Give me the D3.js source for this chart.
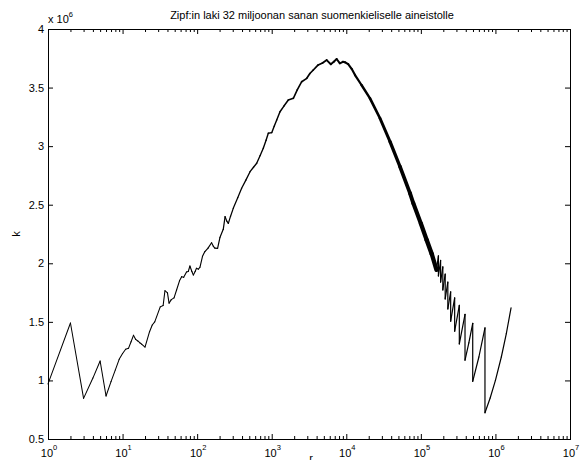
<!DOCTYPE html>
<html>
<head>
<meta charset="utf-8">
<script src="https://d3js.org/d3.v7.min.js"></script>
<style>
body{margin:0;background:#fff;}
text{font-family:"Liberation Sans",Arial,Helvetica,sans-serif;fill:#000;}
</style>
</head>
<body>
<script>
const width = 581;
const height = 468;
const margin = {top:29, right:11, bottom:29, left:48};

const titleText = "Zipf:in laki 32 miljoonan sanan suomenkieliselle aineistolle";
const xLabel = "r";
const yLabel = "k";
const xTickPowers = [0,1,2,3,4,5,6,7];
const yTicks = [0.5,1,1.5,2,2.5,3,3.5,4];
const yTickLabels = ["0.5","1","1.5","2","2.5","3","3.5","4"];

// rank of the word
const ranks = [
  1, 2, 3, 4, 5, 6, 7, 8, 9, 10,
  11, 12, 13, 14, 15, 16, 17, 18, 20, 23,
  25, 27, 32, 35, 37, 40, 42, 45, 49, 53,
  58, 62, 66, 72, 76, 80, 85, 89, 94, 98,
  104, 109, 118, 127, 140, 156, 165, 173, 188, 202,
  224, 237, 250, 262, 280, 305, 350, 395, 450, 512,
  570, 629, 700, 771, 840, 900, 1000, 1080, 1167, 1291,
  1450, 1670, 1950, 2200, 2525, 2950, 3250, 3610, 4200, 4800,
  5460, 6200, 6800, 7430, 8200, 9000, 9600, 10600, 11800, 13100,
  16000, 20800, 28300, 38600, 52500, 71600, 79300, 100000, 119700, 140000,
  162000, 172000, 172000, 184000, 184000, 197000, 197000, 212000, 212000, 230000,
  230000, 251000, 251000, 284000, 284000, 328000, 328000, 391000, 391000, 440000,
  496000, 496000, 600000, 724000, 724000, 850000, 1000000, 1200000, 1400000, 1620000
];

// k = rank * frequency, in units of 10^6
const kValues = [
  0.97, 1.49, 0.847, 1.02, 1.166, 0.867, 0.99, 1.09, 1.18, 1.23,
  1.266, 1.274, 1.33, 1.385, 1.35, 1.337, 1.322, 1.31, 1.285, 1.416,
  1.473, 1.50, 1.628, 1.64, 1.766, 1.748, 1.66, 1.69, 1.705, 1.772,
  1.85, 1.886, 1.88, 1.925, 1.93, 1.977, 1.93, 1.90, 1.93, 1.957,
  1.95, 1.966, 2.06, 2.10, 2.13, 2.175, 2.145, 2.13, 2.128, 2.22,
  2.29, 2.398, 2.36, 2.341, 2.40, 2.469, 2.56, 2.64, 2.71, 2.782,
  2.82, 2.854, 2.92, 2.982, 3.05, 3.11, 3.115, 3.17, 3.223, 3.294,
  3.34, 3.394, 3.408, 3.48, 3.55, 3.579, 3.62, 3.65, 3.693, 3.71,
  3.735, 3.699, 3.72, 3.744, 3.707, 3.72, 3.716, 3.701, 3.66, 3.607,
  3.522, 3.408, 3.238, 3.038, 2.825, 2.597, 2.512, 2.34, 2.199, 2.08,
  1.944, 2.064, 1.892, 2.024, 1.84, 1.97, 1.773, 1.908, 1.696, 1.84,
  1.61, 1.757, 1.506, 1.704, 1.42, 1.64, 1.312, 1.564, 1.173, 1.32,
  1.488, 0.992, 1.2, 1.448, 0.724, 0.85, 1.0, 1.2, 1.4, 1.62
];

const svg = d3.select("body").append("svg")
  .attr("width", width)
  .attr("height", height);

svg.append("rect")
  .attr("width", width)
  .attr("height", height)
  .attr("fill", "#fff");

const x = d3.scaleLog().domain([1, 1e7]).range([margin.left, width - margin.right]);
const y = d3.scaleLinear().domain([0.5, 4]).range([height - margin.bottom, margin.top]);

// the dense tail of the curve looks thicker in the original
const lineWidth = d3.scaleLog()
  .domain([1, 100, 1000, 5000, 12000, 20000, 40000, 80000, 150000, 158000])
  .range([1, 1.1, 1.4, 1.8, 2.1, 2.5, 3.2, 4, 4.6, 1.2])
  .clamp(true);

const data = ranks.map((r, i) => ({r: r, k: kValues[i]}));
const segments = d3.pairs(data);

svg.append("g")
  .selectAll("line")
  .data(segments)
  .join("line")
  .attr("x1", d => x(d[0].r))
  .attr("y1", d => y(d[0].k))
  .attr("x2", d => x(d[1].r))
  .attr("y2", d => y(d[1].k))
  .attr("stroke", "#000")
  .attr("stroke-linecap", "round")
  .attr("stroke-width", d => lineWidth(Math.sqrt(d[0].r * d[1].r)));

// axes, matlab style: ticks pointing inside on all four sides
const majorX = xTickPowers.map(p => Math.pow(10, p));
const minorX = x.ticks().filter(t => !majorX.includes(t));

function tidy(g) {
  g.select(".domain").remove();
  g.selectAll(".tick line").attr("stroke", "#000");
}

svg.append("g").attr("transform", `translate(0,${height - margin.bottom})`)
  .call(d3.axisBottom(x).tickValues(majorX).tickSize(-5).tickFormat(""))
  .call(tidy);
svg.append("g").attr("transform", `translate(0,${height - margin.bottom})`)
  .call(d3.axisBottom(x).tickValues(minorX).tickSize(-3).tickFormat(""))
  .call(tidy);
svg.append("g").attr("transform", `translate(0,${margin.top})`)
  .call(d3.axisTop(x).tickValues(majorX).tickSize(-5).tickFormat(""))
  .call(tidy);
svg.append("g").attr("transform", `translate(0,${margin.top})`)
  .call(d3.axisTop(x).tickValues(minorX).tickSize(-3).tickFormat(""))
  .call(tidy);

svg.append("g").attr("transform", `translate(${margin.left},0)`)
  .call(d3.axisLeft(y).tickValues(yTicks).tickSize(-5).tickPadding(4)
    .tickFormat((d, i) => yTickLabels[i]))
  .call(tidy)
  .call(g => g.selectAll("text").attr("font-size", 11).attr("font-family", null));
svg.append("g").attr("transform", `translate(${width - margin.right},0)`)
  .call(d3.axisRight(y).tickValues(yTicks).tickSize(-5).tickFormat(""))
  .call(tidy);

svg.append("rect")
  .attr("x", margin.left)
  .attr("y", margin.top)
  .attr("width", width - margin.left - margin.right)
  .attr("height", height - margin.top - margin.bottom)
  .attr("fill", "none")
  .attr("stroke", "#000")
  .attr("shape-rendering", "crispEdges");

// x tick labels 10^p
const xl = svg.append("g").selectAll("text")
  .data(xTickPowers)
  .join("text")
  .attr("x", d => x(Math.pow(10, d)) + 1)
  .attr("y", height - margin.bottom + 18)
  .attr("text-anchor", "middle")
  .attr("font-size", 11);
xl.append("tspan").text("10");
xl.append("tspan").attr("dy", -7).attr("font-size", 7.5).text(d => d);

// multiplier above the y axis
const mult = svg.append("text")
  .attr("x", margin.left)
  .attr("y", margin.top - 6)
  .attr("font-size", 11);
mult.append("tspan").text("x 10");
mult.append("tspan").attr("dy", -6).attr("font-size", 7.5).text("6");

svg.append("text")
  .attr("x", (margin.left + width - margin.right) / 2 + 3)
  .attr("y", 19)
  .attr("text-anchor", "middle")
  .attr("font-size", 11)
  .text(titleText);

svg.append("text")
  .attr("transform", `translate(20,${(margin.top + height - margin.bottom) / 2}) rotate(-90)`)
  .attr("text-anchor", "middle")
  .attr("font-size", 11)
  .text(yLabel);

// x label is cut off at the bottom in the original
svg.append("clipPath").attr("id", "cut")
  .append("rect").attr("x", 0).attr("y", 0).attr("width", width).attr("height", 460);
svg.append("text")
  .attr("clip-path", "url(#cut)")
  .attr("x", 311)
  .attr("y", 462)
  .attr("text-anchor", "middle")
  .attr("font-size", 11)
  .text(xLabel);
</script>
</body>
</html>
